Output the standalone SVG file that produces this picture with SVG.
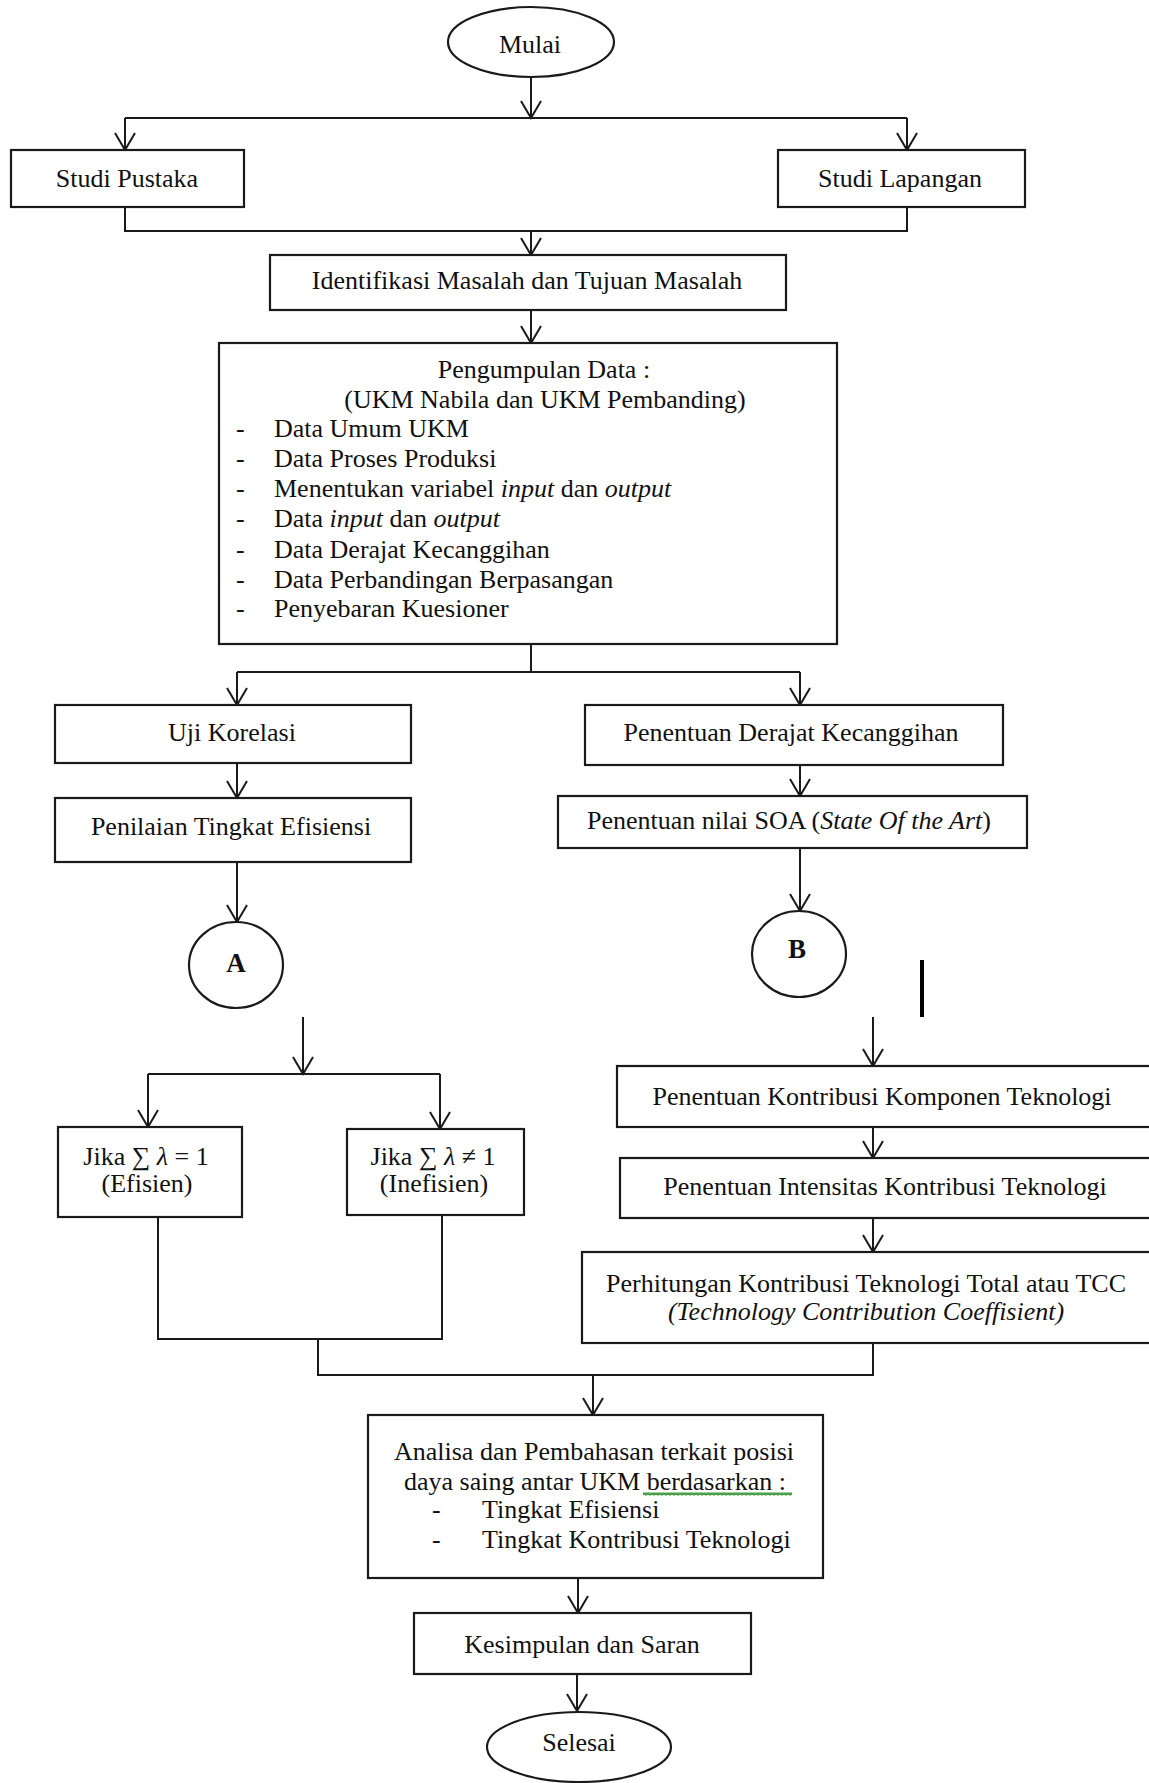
<svg xmlns="http://www.w3.org/2000/svg" width="1149" height="1783" viewBox="0 0 1149 1783">
<style>
  .box { fill: #fff; stroke: #1a1a1a; stroke-width: 2.2; }
  .t { font-family: "Liberation Serif", "Times New Roman", serif; font-size: 26px; fill: #111; }
  .c { text-anchor: middle; }
  .i { font-style: italic; }
  .ln { fill: none; stroke: #1a1a1a; stroke-width: 2; }
  .ar { fill: none; stroke: #1a1a1a; stroke-width: 2; marker-end: url(#v); }
</style>
<defs>
  <marker id="v" markerUnits="userSpaceOnUse" viewBox="-20 -12 22 24" refX="0" refY="0" markerWidth="22" markerHeight="24" orient="auto" overflow="visible">
    <path d="M-17,-10 L0,0 L-17,10" fill="none" stroke="#1a1a1a" stroke-width="2"/>
  </marker>
  <pattern id="wave" patternUnits="userSpaceOnUse" width="4" height="4" x="0" y="1492">
    <path d="M0,3 L1,1 L2,3 L3,1 L4,3" fill="none" stroke="#3d9a3d" stroke-width="1.3"/>
  </pattern>
</defs>
<rect width="1149" height="1783" fill="#fff"/>

<g id="connectors">
  <line class="ar" x1="531" y1="77" x2="531" y2="118"/>
  <line class="ln" x1="125" y1="118" x2="907" y2="118"/>
  <line class="ar" x1="125" y1="118" x2="125" y2="150"/>
  <line class="ar" x1="907" y1="118" x2="907" y2="150"/>
  <polyline class="ln" points="125,207 125,231 907,231 907,207"/>
  <line class="ar" x1="531" y1="231" x2="531" y2="255"/>
  <line class="ar" x1="531" y1="310" x2="531" y2="343"/>
  <line class="ln" x1="531" y1="644" x2="531" y2="672"/>
  <line class="ln" x1="237" y1="672" x2="800" y2="672"/>
  <line class="ar" x1="237" y1="672" x2="237" y2="705"/>
  <line class="ar" x1="800" y1="672" x2="800" y2="705"/>
  <line class="ar" x1="237" y1="763" x2="237" y2="798"/>
  <line class="ar" x1="800" y1="765" x2="800" y2="796"/>
  <line class="ar" x1="237" y1="862" x2="237" y2="922"/>
  <line class="ar" x1="800" y1="848" x2="800" y2="911"/>
  <line class="ar" x1="303" y1="1017" x2="303" y2="1074"/>
  <line class="ln" x1="148" y1="1074" x2="440" y2="1074"/>
  <line class="ar" x1="148" y1="1074" x2="148" y2="1127"/>
  <line class="ar" x1="440" y1="1074" x2="440" y2="1129"/>
  <polyline class="ln" points="158,1217 158,1339 442,1339 442,1215"/>
  <polyline class="ln" points="318,1339 318,1375 873,1375 873,1343"/>
  <line class="ar" x1="873" y1="1017" x2="873" y2="1066"/>
  <line class="ar" x1="873" y1="1127" x2="873" y2="1158"/>
  <line class="ar" x1="873" y1="1218" x2="873" y2="1252"/>
  <line class="ar" x1="593" y1="1375" x2="593" y2="1415"/>
  <line class="ar" x1="578" y1="1578" x2="578" y2="1613"/>
  <line class="ar" x1="577" y1="1674" x2="577" y2="1711"/>
</g>

<line x1="922" y1="960" x2="922" y2="1017" stroke="#000" stroke-width="4"/>

<g id="mulai">
  <ellipse class="box" cx="531" cy="42" rx="83" ry="35"/>
  <text class="t c" x="530" y="53">Mulai</text>
</g>
<g id="studi-pustaka">
  <rect class="box" x="11" y="150" width="233" height="57"/>
  <text class="t c" x="127" y="187">Studi Pustaka</text>
</g>
<g id="studi-lapangan">
  <rect class="box" x="778" y="150" width="247" height="57"/>
  <text class="t c" x="900" y="187">Studi Lapangan</text>
</g>
<g id="identifikasi">
  <rect class="box" x="270" y="255" width="516" height="55"/>
  <text class="t c" x="527" y="289">Identifikasi Masalah dan Tujuan Masalah</text>
</g>
<g id="pengumpulan">
  <rect class="box" x="219" y="343" width="618" height="301"/>
  <text class="t c" x="544" y="378">Pengumpulan Data :</text>
  <text class="t c" x="545" y="408">(UKM Nabila dan UKM Pembanding)</text>
  <text class="t" x="236" y="437">-</text><text class="t" x="274" y="437">Data Umum UKM</text>
  <text class="t" x="236" y="467">-</text><text class="t" x="274" y="467">Data Proses Produksi</text>
  <text class="t" x="236" y="497">-</text><text class="t" x="274" y="497">Menentukan variabel <tspan class="i">input</tspan> dan <tspan class="i">output</tspan></text>
  <text class="t" x="236" y="527">-</text><text class="t" x="274" y="527">Data <tspan class="i">input</tspan> dan <tspan class="i">output</tspan></text>
  <text class="t" x="236" y="558">-</text><text class="t" x="274" y="558">Data Derajat Kecanggihan</text>
  <text class="t" x="236" y="588">-</text><text class="t" x="274" y="588">Data Perbandingan Berpasangan</text>
  <text class="t" x="236" y="617">-</text><text class="t" x="274" y="617">Penyebaran Kuesioner</text>
</g>
<g id="uji-korelasi">
  <rect class="box" x="55" y="705" width="356" height="58"/>
  <text class="t c" x="232" y="741">Uji Korelasi</text>
</g>
<g id="derajat">
  <rect class="box" x="585" y="705" width="418" height="60"/>
  <text class="t c" x="791" y="741">Penentuan Derajat Kecanggihan</text>
</g>
<g id="penilaian">
  <rect class="box" x="55" y="798" width="356" height="64"/>
  <text class="t c" x="231" y="835">Penilaian Tingkat Efisiensi</text>
</g>
<g id="soa">
  <rect class="box" x="558" y="796" width="469" height="52"/>
  <text class="t c" x="789" y="829">Penentuan nilai SOA (<tspan class="i">State Of the Art</tspan>)</text>
</g>
<g id="a">
  <ellipse class="box" cx="236" cy="965" rx="47" ry="43"/>
  <text class="t c" x="236" y="972" font-weight="bold" style="font-size:27px">A</text>
</g>
<g id="b">
  <ellipse class="box" cx="799" cy="954" rx="47" ry="43"/>
  <text class="t c" x="797" y="958" font-weight="bold" style="font-size:27px">B</text>
</g>
<g id="efisien">
  <rect class="box" x="58" y="1127" width="184" height="90"/>
  <text class="t c" x="146" y="1165">Jika ∑ <tspan class="i">λ</tspan> = 1</text>
  <text class="t c" x="147" y="1192">(Efisien)</text>
</g>
<g id="inefisien">
  <rect class="box" x="347" y="1129" width="177" height="86"/>
  <text class="t c" x="433" y="1165">Jika ∑ <tspan class="i">λ</tspan> ≠ 1</text>
  <text class="t c" x="434" y="1192">(Inefisien)</text>
</g>
<g id="komponen">
  <rect class="box" x="617" y="1066" width="540" height="61"/>
  <text class="t c" x="882" y="1105">Penentuan Kontribusi Komponen Teknologi</text>
</g>
<g id="intensitas">
  <rect class="box" x="620" y="1158" width="540" height="60"/>
  <text class="t c" x="885" y="1195">Penentuan Intensitas Kontribusi Teknologi</text>
</g>
<g id="perhitungan">
  <rect class="box" x="582" y="1252" width="580" height="91"/>
  <text class="t c" x="866" y="1292">Perhitungan Kontribusi Teknologi Total atau TCC</text>
  <text class="t c i" x="866" y="1320">(Technology Contribution Coeffisient)</text>
</g>
<g id="analisa">
  <rect class="box" x="368" y="1415" width="455" height="163"/>
  <text class="t c" x="594" y="1460">Analisa dan Pembahasan terkait posisi</text>
  <text class="t c" x="595" y="1490">daya saing antar UKM berdasarkan :</text>
  <rect x="643" y="1492" width="149" height="4" fill="url(#wave)"/>
  <text class="t" x="432" y="1518">-</text><text class="t" x="482" y="1518">Tingkat Efisiensi</text>
  <text class="t" x="432" y="1548">-</text><text class="t" x="482" y="1548">Tingkat Kontribusi Teknologi</text>
</g>
<g id="kesimpulan">
  <rect class="box" x="414" y="1613" width="337" height="61"/>
  <text class="t c" x="582" y="1653">Kesimpulan dan Saran</text>
</g>
<g id="selesai">
  <ellipse class="box" cx="579" cy="1747" rx="92" ry="35"/>
  <text class="t c" x="579" y="1751">Selesai</text>
</g>
</svg>
